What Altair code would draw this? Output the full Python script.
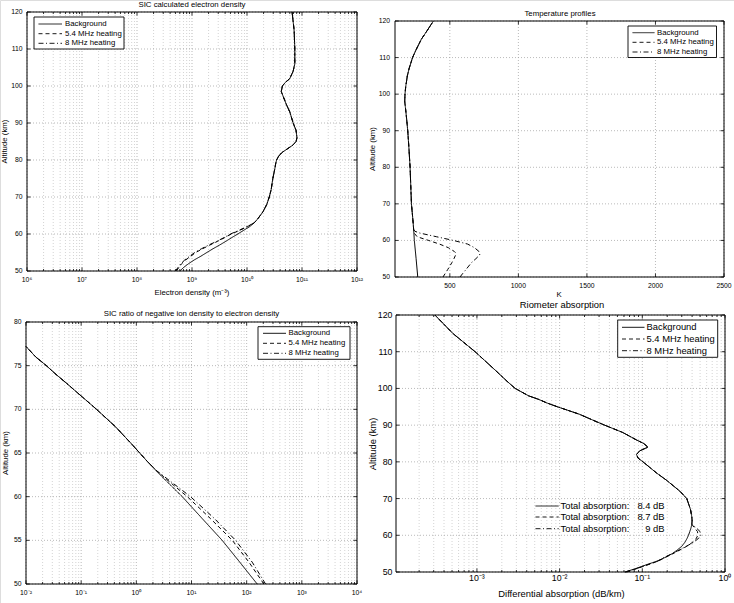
import altair as alt
import pandas as pd

FONT = "Liberation Sans"

# line styles for the three model runs
SERIES = ["Background", "5.4 MHz heating", "8 MHz heating"]
SOLID = [1, 0]
DASHED = [4, 3]
DASHDOT = [5, 2.5, 1, 2.5]
GRID_MAJOR = "#9c9c9c"
GRID_MINOR = "#c2c2c2"

# ---------------- SIC calculated electron density ----------------
P1_ALT = [50, 51, 52, 53, 54, 55, 56, 57, 58, 59, 60, 61, 62, 63, 64, 65, 66, 68, 70, 72,
          75, 78, 79, 80, 81, 82, 83, 84, 85, 86, 88, 90, 93, 95, 97, 98.5, 100, 101, 102, 104,
          106, 110, 115, 120]
P1_BG = [6.0e8, 7.1e8, 8.7e8, 1.1e9, 1.45e9, 1.86e9, 2.4e9, 3.16e9, 4.1e9, 5.25e9,
         6.8e9, 8.7e9, 1.12e10, 1.35e10, 1.55e10, 1.74e10, 1.95e10, 2.29e10, 2.54e10, 2.75e10,
         2.95e10, 3.24e10, 3.32e10, 3.45e10, 3.75e10, 4.3e10, 5.4e10, 6.8e10, 7.8e10, 8.1e10,
         7.8e10, 6.9e10, 6.0e10, 5.2e10, 4.6e10, 4.2e10, 4.4e10, 5.0e10, 6.0e10, 6.9e10,
         7.4e10, 7.4e10, 7.2e10, 6.6e10]
P1_HEAT_ALT = [50, 51, 52, 53, 54, 55, 56, 57, 58, 59, 60, 61, 62]
P1_HEAT_54 = [5.2e8, 5.8e8, 6.5e8, 7.7e8, 9.5e8, 1.17e9, 1.55e9, 2.1e9, 2.9e9, 3.9e9, 5.2e9, 7.4e9, 1.02e10]
P1_HEAT_8 = [5.0e8, 5.6e8, 6.3e8, 7.4e8, 9.1e8, 1.12e9, 1.48e9, 2.0e9, 2.8e9, 3.8e9, 5.0e9, 7.2e9, 1.0e10]
P1_XTICKS = [1e6, 1e7, 1e8, 1e9, 1e10, 1e11, 1e12]
P1_XLABELS = ["10⁶", "10⁷", "10⁸", "10⁹", "10¹⁰", "10¹¹", "10¹²"]
P1_YTICKS = [50, 60, 70, 80, 90, 100, 110, 120]

# ---------------- Temperature profiles ----------------
P2_ALT = [50, 55, 60, 63, 65, 70, 75, 80, 85, 90, 92, 95, 98, 100, 102, 105, 107, 110, 112,
          115, 117, 120]
P2_BG = [266, 254, 241, 236, 232, 220, 215, 210, 202, 193, 188, 180, 171, 173, 178, 190, 203,
         228, 252, 292, 328, 380]
P2_HEAT_ALT = [50, 51, 52, 53, 54, 55, 56, 56.5, 57, 58, 59, 60, 61, 62, 62.5]
P2_HEAT_54 = [450, 467, 484, 500, 516, 530, 542, 545, 532, 490, 425, 345, 262, 240, 238]
P2_HEAT_8 = [574, 595, 617, 638, 660, 690, 717, 720, 712, 680, 630, 526, 404, 282, 245]
P2_XTICKS = [500, 1000, 1500, 2000, 2500]
P2_XLABELS = ["500", "1000", "1500", "2000", "2500"]
P2_YTICKS = [50, 60, 70, 80, 90, 100, 110, 120]

# ---------------- SIC negative ion / electron density ratio ----------------
P3_ALT = [50, 52.5, 55, 57.5, 60, 62.5, 64, 65, 66, 68, 70, 71, 72, 73, 74, 75, 76, 77.2]
P3_BG = [155, 75, 36, 15.6, 6.8, 2.7, 1.6, 1.15, 0.83, 0.42, 0.19, 0.125, 0.082, 0.054,
         0.035, 0.0234, 0.015, 0.01]
P3_HEAT_ALT = [50, 52.5, 55, 57.5, 60, 62, 63]
P3_HEAT_54 = [205, 110, 55, 22, 8.4, 3.5, 2.3]
P3_HEAT_8 = [220, 126, 63, 26, 9.6, 3.7, 2.3]
P3_XTICKS = [1e-2, 1e-1, 1e0, 1e1, 1e2, 1e3, 1e4]
P3_XLABELS = ["10⁻²", "10⁻¹", "10⁰", "10¹", "10²", "10³", "10⁴"]
P3_YTICKS = [50, 55, 60, 65, 70, 75, 80]

# ---------------- Riometer absorption ----------------
P4_ALT = [50, 51, 52, 53, 54, 55, 56, 57, 58, 59, 60, 61, 62, 63, 64, 65, 66, 67, 68, 70,
          72, 75, 77, 80, 81, 82, 83, 84, 85, 86, 88, 90, 91, 93, 95, 96, 97, 98, 100, 102,
          105, 110, 115, 120]
P4_BG = [0.062, 0.085, 0.113, 0.152, 0.19, 0.23, 0.265, 0.30, 0.325, 0.345, 0.362, 0.375,
         0.388, 0.397, 0.40, 0.397, 0.39, 0.383, 0.37, 0.345, 0.285, 0.196, 0.148, 0.102,
         0.089, 0.085, 0.093, 0.117, 0.104, 0.0845, 0.058, 0.035, 0.0275, 0.0172, 0.0094,
         0.0071, 0.0056, 0.0042, 0.0029, 0.0023, 0.00166, 0.00095, 0.00051, 0.00031]
P4_HEAT_ALT = [50, 51, 52, 53, 54, 55, 56, 57, 58, 59, 60, 61, 62]
P4_HEAT_54 = [0.064, 0.088, 0.118, 0.157, 0.19, 0.235, 0.285, 0.345, 0.40, 0.445, 0.47, 0.465, 0.43]
P4_HEAT_8 = [0.062, 0.086, 0.116, 0.155, 0.185, 0.23, 0.28, 0.34, 0.41, 0.47, 0.51, 0.50, 0.45]
P4_TOTALS = [8.4, 8.7, 9]
P4_XTICKS = [1e-3, 1e-2, 1e-1, 1e0]
P4_XLABELS = ["10⁻³", "10⁻²", "10⁻¹", "10⁰"]
P4_YTICKS = [50, 60, 70, 80, 90, 100, 110, 120]

ONE_ROW = alt.Data(values=[{"row": 0}])


def minor_decades(lo_exp, hi_exp, lo_limit=0.0):
    vals = [m * 10.0 ** e for e in range(lo_exp, hi_exp) for m in range(2, 10)]
    return [v for v in vals if v > lo_limit]


def joined(heat_alt, heat_vals, base_alt, base_vals):
    top = max(heat_alt)
    alts = list(heat_alt) + [a for a in base_alt if a > top]
    vals = list(heat_vals) + [v for a, v in zip(base_alt, base_vals) if a > top]
    return pd.DataFrame({"alt": alts, "v": vals})


def text(t, x, y, size, angle=0, align="center"):
    return alt.Chart(ONE_ROW).mark_text(
        text=t, font=FONT, fontSize=size, angle=angle, align=align,
        baseline="middle", color="black"
    ).encode(x=alt.value(x), y=alt.value(y))


def legend(labels, styles, box, rows, line_x, text_x, size, value_texts=None, value_x=None):
    layers = []
    if box is not None:
        x0, y0, x1, y1 = box
        layers.append(alt.Chart(ONE_ROW).mark_rect(
            fill="white", stroke="black", strokeWidth=0.9
        ).encode(x=alt.value(x0), x2=alt.value(x1), y=alt.value(y0), y2=alt.value(y1)))
    for i, (lab, dash, yr) in enumerate(zip(labels, styles, rows)):
        layers.append(alt.Chart(ONE_ROW).mark_rule(
            color="black", strokeWidth=0.9, strokeDash=dash
        ).encode(x=alt.value(line_x[0]), x2=alt.value(line_x[1]), y=alt.value(yr)))
        layers.append(text(lab, text_x, yr, size, align="left"))
        if value_texts is not None:
            layers.append(text(value_texts[i], value_x, yr, size, align="right"))
    return layers


def panel(xs, ys, xdom, ydom, xmajor, xminor, ymajor, xlabels, series,
          tick_size, xlab_dy, ylab_dx):
    (xa, xb), (ya, yb) = xdom, ydom

    def X(f):
        return alt.X(f, type="quantitative", scale=xs, axis=None)

    def Y(f):
        return alt.Y(f, type="quantitative", scale=ys, axis=None)

    def XD(v):
        return alt.XDatum(v, type="quantitative", scale=xs, axis=None)

    def YD(v):
        return alt.YDatum(v, type="quantitative", scale=ys, axis=None)

    layers = []
    # dotted grid
    if xminor:
        layers.append(alt.Chart(pd.DataFrame({"g": xminor})).mark_rule(
            color=GRID_MINOR, strokeWidth=0.7, strokeDash=[1, 2]
        ).encode(x=X("g"), y=YD(ya), y2=alt.Y2Datum(yb)))
    layers.append(alt.Chart(pd.DataFrame({"g": xmajor})).mark_rule(
        color=GRID_MAJOR, strokeWidth=0.7, strokeDash=[1, 2]
    ).encode(x=X("g"), y=YD(ya), y2=alt.Y2Datum(yb)))
    layers.append(alt.Chart(pd.DataFrame({"g": ymajor})).mark_rule(
        color=GRID_MAJOR, strokeWidth=0.7, strokeDash=[1, 2]
    ).encode(y=Y("g"), x=XD(xa), x2=alt.X2Datum(xb)))

    # profiles
    for df, dash in series:
        layers.append(alt.Chart(df).mark_line(
            color="black", strokeWidth=1, strokeDash=dash
        ).encode(x=X("v"), y=Y("alt"), order=alt.Order("alt:Q")))

    # inward ticks on all four sides
    for vals, ln in ((xmajor, 3.5), (xminor, 2)):
        if not vals:
            continue
        df = pd.DataFrame({"g": vals})
        layers.append(alt.Chart(df).mark_rule(color="black", strokeWidth=0.8, y2Offset=-ln)
                      .encode(x=X("g"), y=YD(ya), y2=alt.Y2Datum(ya)))
        layers.append(alt.Chart(df).mark_rule(color="black", strokeWidth=0.8, y2Offset=ln)
                      .encode(x=X("g"), y=YD(yb), y2=alt.Y2Datum(yb)))
    dfy = pd.DataFrame({"g": ymajor})
    layers.append(alt.Chart(dfy).mark_rule(color="black", strokeWidth=0.8, x2Offset=3.5)
                  .encode(y=Y("g"), x=XD(xa), x2=alt.X2Datum(xa)))
    layers.append(alt.Chart(dfy).mark_rule(color="black", strokeWidth=0.8, x2Offset=-3.5)
                  .encode(y=Y("g"), x=XD(xb), x2=alt.X2Datum(xb)))

    # frame
    layers.append(alt.Chart(ONE_ROW).mark_rect(filled=False, color="black", strokeWidth=1)
                  .encode(x=XD(xa), x2=alt.X2Datum(xb), y=YD(ya), y2=alt.Y2Datum(yb)))

    # tick labels
    layers.append(alt.Chart(pd.DataFrame({"t": xmajor, "lab": xlabels})).mark_text(
        font=FONT, fontSize=tick_size, dy=xlab_dy, baseline="middle", color="black"
    ).encode(x=X("t"), y=YD(ya), text=alt.Text("lab:N")))
    layers.append(alt.Chart(pd.DataFrame({"t": ymajor, "lab": [str(v) for v in ymajor]})).mark_text(
        font=FONT, fontSize=tick_size, dx=ylab_dx, align="right", baseline="middle", color="black"
    ).encode(y=Y("t"), x=XD(xa), text=alt.Text("lab:N")))
    return layers


# ---------------- panel 1 ----------------
p1_x = alt.Scale(type="log", domain=[1e6, 1e12], range=[27, 357], nice=False)
p1_y = alt.Scale(domain=[50, 120], range=[271, 12], nice=False, zero=False)
p1_series = [
    (joined(P1_HEAT_ALT, P1_HEAT_8, P1_ALT, P1_BG), DASHDOT),
    (joined(P1_HEAT_ALT, P1_HEAT_54, P1_ALT, P1_BG), DASHED),
    (pd.DataFrame({"alt": P1_ALT, "v": P1_BG}), SOLID),
]
p1 = panel(p1_x, p1_y, (1e6, 1e12), (50, 120), P1_XTICKS, minor_decades(6, 12),
           P1_YTICKS, P1_XLABELS, p1_series, 6.8, 9, -4.5)
p1 += [
    text("SIC calculated electron density", 192, 4.5, 7.8),
    text("Electron density (m⁻³)", 192, 293, 7.8),
    text("Altitude (km)", 5, 141.5, 7.8, angle=270),
]
p1 += legend(SERIES, [SOLID, DASHED, DASHDOT], (34, 17, 124, 49), [24, 33.7, 43.3],
             (38.5, 62), 65, 7.8)

# ---------------- panel 2 ----------------
p2_x = alt.Scale(domain=[100, 2500], range=[395, 724], nice=False, zero=False)
p2_y = alt.Scale(domain=[50, 120], range=[277, 21], nice=False, zero=False)
p2_series = [
    (joined(P2_HEAT_ALT, P2_HEAT_8, P2_ALT, P2_BG), DASHDOT),
    (joined(P2_HEAT_ALT, P2_HEAT_54, P2_ALT, P2_BG), DASHED),
    (pd.DataFrame({"alt": P2_ALT, "v": P2_BG}), SOLID),
]
p2 = panel(p2_x, p2_y, (100, 2500), (50, 120), P2_XTICKS, [], P2_YTICKS, P2_XLABELS,
           p2_series, 6.8, 9, -5)
p2 += [
    text("Temperature profiles", 560, 13.5, 7.8),
    text("K", 559, 295, 7.8),
    text("Altitude (km)", 373, 149, 7.8, angle=270),
]
p2 += legend(SERIES, [SOLID, DASHED, DASHDOT], (628, 26, 716.5, 57.5), [32.7, 42.3, 52],
             (632.5, 654.5), 657, 7.8)

# ---------------- panel 3 ----------------
p3_x = alt.Scale(type="log", domain=[1e-2, 1e4], range=[26, 357], nice=False)
p3_y = alt.Scale(domain=[50, 80], range=[584, 322], nice=False, zero=False)
p3_series = [
    (joined(P3_HEAT_ALT, P3_HEAT_8, P3_ALT, P3_BG), DASHDOT),
    (joined(P3_HEAT_ALT, P3_HEAT_54, P3_ALT, P3_BG), DASHED),
    (pd.DataFrame({"alt": P3_ALT, "v": P3_BG}), SOLID),
]
p3 = panel(p3_x, p3_y, (1e-2, 1e4), (50, 80), P3_XTICKS, minor_decades(-2, 4),
           P3_YTICKS, P3_XLABELS, p3_series, 6.8, 9, -4.5)
p3 += [
    text("SIC ratio of negative ion density to electron density", 191.5, 313.5, 7.8),
    text("Altitude (km)", 5.5, 453, 7.8, angle=270),
]
p3 += legend(SERIES, [SOLID, DASHED, DASHDOT], (258, 326.7, 350, 359.3),
             [333.3, 343.3, 353.3], (263, 286), 288.5, 7.8)

# ---------------- panel 4 ----------------
p4_x = alt.Scale(type="log", domain=[1.05e-4, 1], range=[396, 725], nice=False)
p4_y = alt.Scale(domain=[50, 120], range=[572, 315], nice=False, zero=False)
p4_series = [
    (joined(P4_HEAT_ALT, P4_HEAT_8, P4_ALT, P4_BG), DASHDOT),
    (joined(P4_HEAT_ALT, P4_HEAT_54, P4_ALT, P4_BG), DASHED),
    (pd.DataFrame({"alt": P4_ALT, "v": P4_BG}), SOLID),
]
p4 = panel(p4_x, p4_y, (1.05e-4, 1), (50, 120), P4_XTICKS, minor_decades(-4, 0, 1.05e-4),
           P4_YTICKS, P4_XLABELS, p4_series, 8.8, 6, -3.5)
p4 += [
    text("Riometer absorption", 562, 305, 9.4),
    text("Differential absorption (dB/km)", 561.5, 594, 9.4),
    text("Altitude (km)", 373, 444, 9.4, angle=270),
]
p4 += legend(SERIES, [SOLID, DASHED, DASHDOT], (617.7, 320, 717.7, 357.3),
             [327.3, 339, 350.7], (622, 644.5), 646.5, 9.4)
p4 += legend(["Total absorption:"] * 3, [SOLID, DASHED, DASHDOT], None,
             [506, 517, 528.7], (535.5, 558.7), 560.5, 9.4,
             value_texts=[f"{v:g} dB" for v in P4_TOTALS], value_x=664.5)

chart = alt.layer(
    alt.layer(*p1), alt.layer(*p2), alt.layer(*p3), alt.layer(*p4)
).resolve_scale(
    x="independent", y="independent"
).properties(
    width=734, height=603, padding=0,
    autosize=alt.AutoSizeParams(type="none"),
).configure_view(strokeWidth=0).configure(font=FONT)

chart.save("out.html", embed_options={"renderer": "svg", "actions": False})
